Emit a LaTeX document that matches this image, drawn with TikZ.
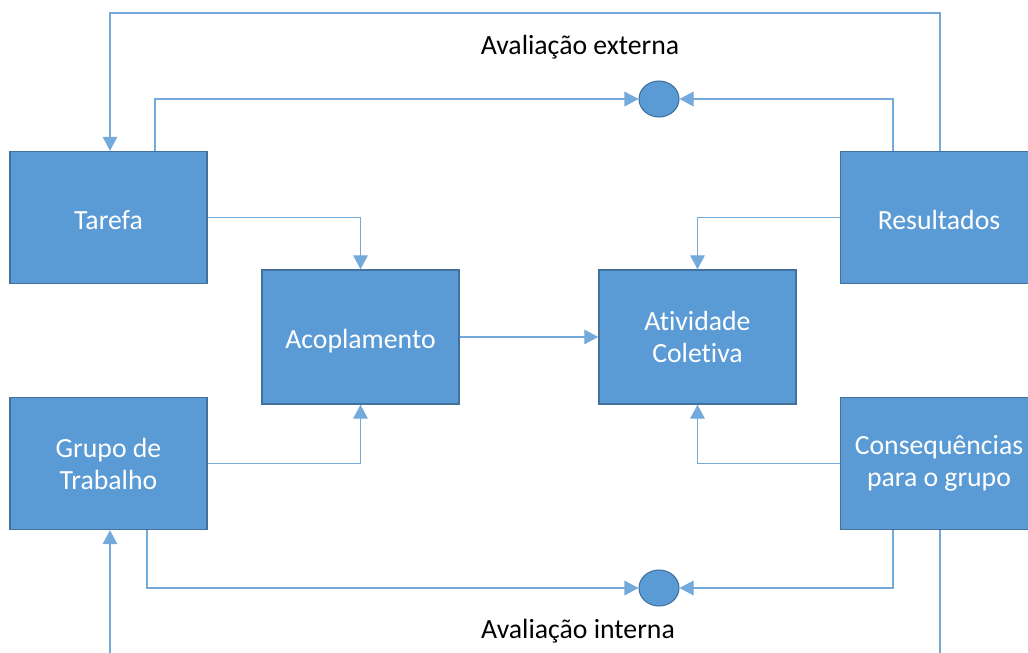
\documentclass[tikz,border=0pt]{standalone}
\usepackage{fontspec}
\setmainfont{Carlito}[Ligatures=NoCommon]
\usetikzlibrary{arrows.meta,shapes.geometric}
\definecolor{boxfill}{HTML}{5B9BD5}
\definecolor{boxline}{HTML}{41719C}
\definecolor{conncol}{HTML}{74A9DB}
\tikzset{
  blk/.style={draw=boxline, line width=1.1pt, fill=boxfill, text=white,
    minimum width=147.75pt, minimum height=99pt, inner sep=0pt, align=center,
    font=\fontsize{20.8}{24}\selectfont},
  circ/.style={ellipse, draw=boxline, line width=0.8pt, fill=boxfill, minimum width=30pt, minimum height=27pt, inner sep=0pt},
  conn/.style={draw=conncol, line width=0.8pt},
  arr/.style={-{Triangle[length=10.5pt,width=11pt]}, conn},
  lbl/.style={font=\fontsize{20.8}{24}\selectfont, text=black}
}
\begin{document}
\begin{tikzpicture}[x=0.75pt,y=-0.75pt]
\useasboundingbox (0,0) rectangle (1028,653);
\clip (0,0) rectangle (1028,653);
% boxes
\node[blk] (tarefa) at (108.5,217.5) {\raisebox{-1.5pt}[\height][0pt]{Tarefa}};
\node[blk] (res) at (939,217.5) {\raisebox{-1.5pt}[\height][0pt]{Resultados}};
\node[blk, minimum height=100.5pt] (acop) at (360.5,337) {\raisebox{-1.5pt}[\height][0pt]{Acoplamento}};
\node[blk, minimum height=100.5pt] (ativ) at (697.5,337) {Atividade\\Coletiva};
\node[blk] (grupo) at (108.5,463.5) {Grupo de\\Trabalho};
\node[blk] (cons) at (939,463.5) {Consequências\\para o grupo};
% circles
\node[circ] (ctop) at (659,99) {};
\node[circ] (cbot) at (659,588) {};
% labels
\node[lbl] (lext) at (580,47) {Avaliação externa};
\node[lbl] (lint) at (578,631) {Avaliação interna};
% helper coordinates
\coordinate (xa) at (155,0);
\coordinate (xb) at (893,0);
\coordinate (xe) at (147,0);
\coordinate (tr) at (940,13);
\coordinate (tl) at (110,13);
\coordinate (br) at (940,653);
\coordinate (bl) at (110,653);
% connectors
\draw[arr] (tarefa.north -| xa) |- (ctop.west);
\draw[arr] (res.north -| xb) |- (ctop.east);
\draw[arr] (res.north -| tr) -- (tr) -- (tl) -- (tarefa.north -| tl);
\draw[arr] (tarefa.east) -| (acop.north);
\draw[arr] (res.west) -| (ativ.north);
\draw[arr] (acop.east) -- (ativ.west);
\draw[arr] (grupo.east) -| (acop.south);
\draw[arr] (cons.west) -| (ativ.south);
\draw[arr] (grupo.south -| xe) |- (cbot.west);
\draw[arr] (cons.south -| xb) |- (cbot.east);
\draw[conn] (cons.south -| tr) -- (br);
\draw[arr] (bl) -- (grupo.south -| bl);
\end{tikzpicture}
\end{document}
